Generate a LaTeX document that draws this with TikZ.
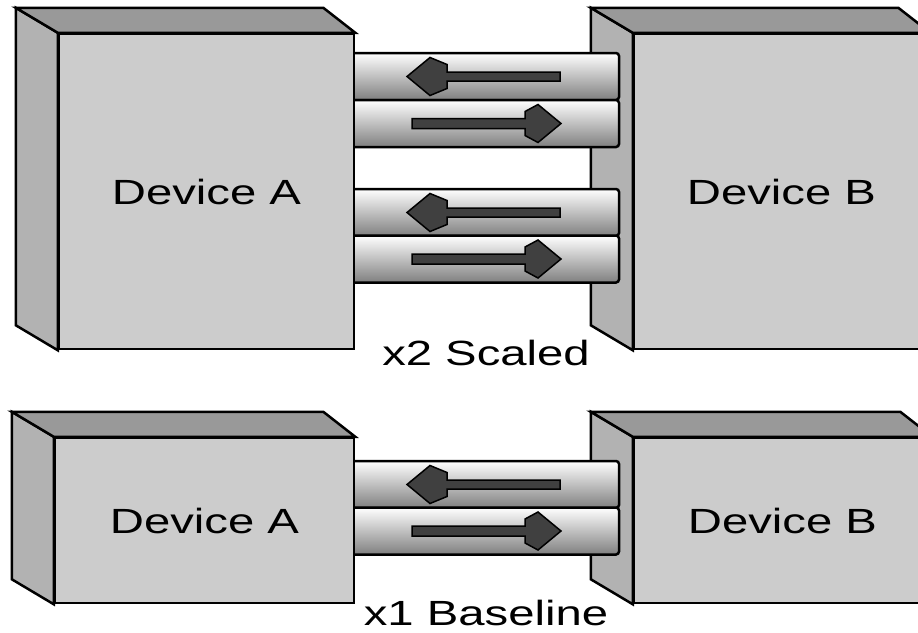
\documentclass[tikz,border=0pt]{standalone}
\usepackage{fontspec}
\newfontfamily\devfont[FakeStretch=1.35]{Liberation Sans}
\begin{document}
\begin{tikzpicture}
    [x=1pt,y=-1pt,line join=miter,
    % Styles
    front face/.style={draw,line width=2.5pt,fill=frontcolor,inner sep=0pt,
      font=\devfont\fontsize{35}{40}\selectfont},
    side face/.style={draw,line width=2.5pt,fill=sidecolor},
    top face/.style={draw,line width=2.5pt,fill=topcolor},
    cable/.style={draw,line width=2.5pt,rounded corners=3pt,
      top color=cabletop,middle color=cablemid,bottom color=cablebot},
    data arrow/.style={draw,line width=1.5pt,fill=arrowcolor},
    caption text/.style={anchor=base,inner sep=0pt,font=\devfont\fontsize{35}{40}\selectfont}]
    % Colors
    \colorlet{frontcolor}{black!20}
    \colorlet{sidecolor}{black!30}
    \colorlet{topcolor}{black!40}
    \colorlet{cabletop}{white}
    \colorlet{cablemid}{black!10}
    \colorlet{cablebot}{black!50}
    \colorlet{arrowcolor}{black!75}
    % The graphic
    \useasboundingbox (0,0) rectangle (918,632);
    \clip (0,0) rectangle (918,632);
    % Devices
    \node[front face,minimum width=295pt,minimum height=315pt] (dev a2) at (206.5,191.5) {Device A};
    \node[front face,minimum width=295pt,minimum height=315pt] (dev b2) at (781.5,191.5) {Device B};
    \node[front face,minimum width=299pt,minimum height=165pt] (dev a1) at (204.5,520.5) {Device A};
    \node[front face,minimum width=297pt,minimum height=165pt] (dev b1) at (782.5,520.5) {Device B};
    \foreach \n in {dev a2,dev b2,dev a1,dev b1} {
      \draw[side face] (\n.north west) -- ++(-42,-25)
        -- ([shift={(-42,-25)}]\n.south west) -- (\n.south west) -- cycle;
      \draw[top face] (\n.north west) -- ++(-42,-25)
        -- ([shift={(-32,-25)}]\n.north east) -- (\n.north east) -- cycle;
    }
    % Links
    \foreach \m in {76.5,123.5,212.5,259,484.5,531}
      \draw[cable] (355,\m-23.5) -- (619,\m-23.5) -- (619,\m+23.5) -- (355,\m+23.5);
    \foreach \m in {76.5,212.5,484.5}
      \draw[data arrow] (407,\m) -- (430,\m-19) -- (447,\m-12) -- (447,\m-4.5)
        -- (560,\m-4.5) -- (560,\m+4.5) -- (447,\m+4.5) -- (447,\m+12) -- (430,\m+19) -- cycle;
    \foreach \m in {123.5,259,531}
      \draw[data arrow] (561,\m) -- (538,\m-19) -- (525,\m-12) -- (525,\m-5)
        -- (412,\m-5) -- (412,\m+5) -- (525,\m+5) -- (525,\m+12) -- (538,\m+19) -- cycle;
    % Captions
    \node[caption text] (cap x2) at (486,365) {x2 Scaled};
    \node[caption text] (cap x1) at (486,625) {x1 Baseline};
  \end{tikzpicture}
\end{document}
